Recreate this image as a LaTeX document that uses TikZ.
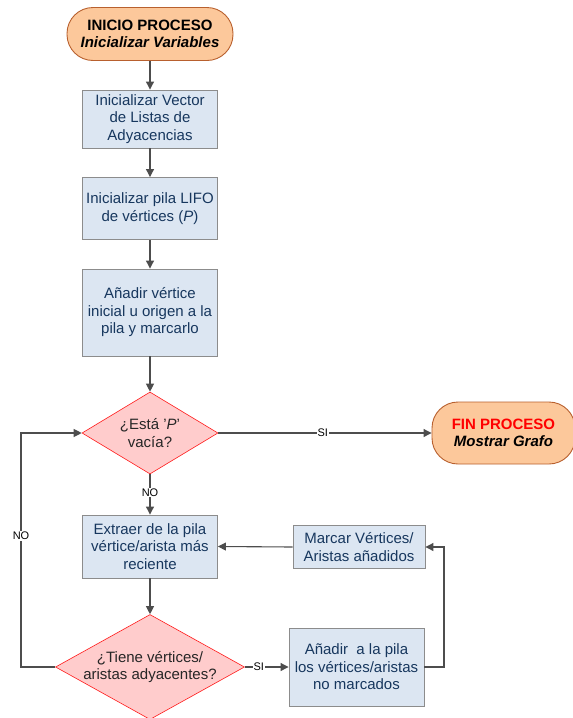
\documentclass[tikz,border=0pt]{standalone}
\usepackage{fontspec}
\setmainfont{Liberation Sans}
\usetikzlibrary{arrows.meta,shapes.geometric}
\definecolor{termfill}{HTML}{FCC89B}
\definecolor{termdraw}{HTML}{B8602E}
\definecolor{boxfill}{HTML}{DCE6F2}
\definecolor{boxdraw}{HTML}{8C8C8C}
\definecolor{boxtext}{HTML}{17375E}
\definecolor{decfill}{HTML}{FFCCCC}
\definecolor{decdraw}{HTML}{FF1A1A}
\definecolor{linecol}{HTML}{4D4D4D}
\tikzset{
  term/.style={draw=termdraw, fill=termfill, line width=0.9pt, rounded corners=26pt, align=center, font=\fontsize{15}{17.5}\selectfont\bfseries, inner sep=0pt},
  procbox/.style={draw=boxdraw, fill=boxfill, line width=0.9pt, align=center, text=boxtext, font=\fontsize{15}{17.5}\selectfont, inner sep=0pt},
  decbox/.style={diamond, draw=decdraw, fill=decfill, line width=0.6pt, inner sep=0pt},
  dectext/.style={align=center, text=black!85, font=\fontsize{15}{17.5}\selectfont},
  conn/.style={draw=linecol, line width=1.1pt},
  arr/.style={conn, -{Triangle[length=8pt,width=8pt]}},
  lbl/.style={fill=white, inner sep=1pt, font=\fontsize{11}{12}\selectfont, text=black}
}
\begin{document}
\begin{tikzpicture}[x=1pt,y=-1pt]
\useasboundingbox (0,0) rectangle (573,718);
% terminals
\node[term, minimum width=166pt, minimum height=53pt] (start) at (150,34) {INICIO PROCESO\\\itshape Inicializar Variables};
\node[term, minimum width=143pt, minimum height=62pt] (fin) at (503.5,433) {\textcolor{red}{FIN PROCESO}\\\itshape Mostrar Grafo};
% process boxes
\node[procbox, minimum width=135pt, minimum height=58pt] (b1) at (150,119) {Inicializar Vector\\de Listas de\\Adyacencias};
\node[procbox, minimum width=135pt, minimum height=62pt] (b2) at (150,208.5) {Inicializar pila LIFO\\de vértices (\textit{P})};
\node[procbox, minimum width=135pt, minimum height=87pt] (b3) at (150,312.5) {Añadir vértice\\inicial u origen a la\\pila y marcarlo};
\node[procbox, minimum width=135pt, minimum height=63pt] (b4) at (150,546.5) {Extraer de la pila\\vértice/arista más\\reciente};
\node[procbox, minimum width=132pt, minimum height=43pt] (mark) at (359,547) {Marcar Vértices/\\Aristas añadidos};
\node[procbox, minimum width=135pt, minimum height=78pt] (add) at (356.5,667) {Añadir\ \ a la pila\\los vértices/aristas\\no marcados};
% decisions
\node[decbox, minimum width=136pt, minimum height=82pt, label={[dectext]center:{¿Está '\textit{P}'\\vacía?}}] (d1) at (150,433) {};
\node[decbox, minimum width=189pt, minimum height=105pt, label={[dectext]center:{¿Tiene vértices/\\aristas adyacentes?}}] (d2) at (150,667) {};
% helper coordinates
\coordinate (lc) at (21,536);
\coordinate (rc) at (444,600);
% connectors
\draw[arr] (start) -- (b1);
\draw[arr] (b1) -- (b2);
\draw[arr] (b2) -- (b3);
\draw[arr] (b3) -- (d1);
\draw[arr] (d1.east) -- node[lbl, pos=0.49] {SI} (fin.west);
\draw[arr] (d1.south) -- node[lbl, pos=0.45] {NO} (b4.north);
\draw[arr] (b4) -- (d2.north);
\draw[arr] (d2.east) -- node[lbl, pos=0.32] {SI} (add.west);
\draw[arr] (d2.west) -| (lc) |- (d1.west);
\node[lbl] (nolbl) at (lc) {NO};
\draw[arr] (add.east) -| (rc) |- (mark.east);
\draw[arr] (mark.west) -- (b4.east);
\end{tikzpicture}
\end{document}
